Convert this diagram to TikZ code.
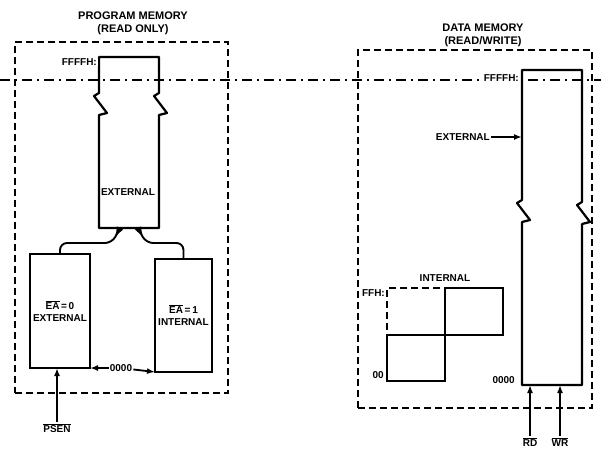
\documentclass[tikz,border=0pt]{standalone}
\usepackage{fontspec}
\setmainfont{Liberation Sans}
\usetikzlibrary{positioning,arrows.meta,calc}
\newcommand{\ovl}[1]{$\overline{\mbox{#1}}$}
\tikzset{
  txt/.style={font=\bfseries\fontsize{10}{11.5}\selectfont, inner sep=1pt, align=center},
  title/.style={font=\bfseries\fontsize{11}{13}\selectfont, inner sep=0pt, align=center},
  region/.style={draw, line width=1.9pt, dash pattern=on 7pt off 4pt, inner sep=0pt},
  memblk/.style={draw, line width=2.2pt, inner sep=0pt, outer sep=0pt, align=center, font=\bfseries\fontsize{10}{12}\selectfont},
  hidden/.style={inner sep=0pt, outer sep=0pt, minimum width=60pt},
  wall/.style={line width=2.2pt, line join=round},
  arr/.style={-{Latex[length=8pt,width=6pt]}, line width=1.8pt},
  branch/.style={line width=1.9pt, rounded corners=7pt},
  sep/.style={line width=1.2pt, dash pattern=on 10pt off 5pt on 2pt off 5pt}
}

\begin{document}
\begin{tikzpicture}[x=1pt,y=-1pt]
\useasboundingbox (0,0) rectangle (601,450);

% address line across both spaces
\coordinate (sepl) at (0,80);
\coordinate (sepr) at (601,80);
\draw[sep] (sepl) -- (sepr);

% program memory
\node[title] (pgmtitle) at (133,23) {PROGRAM MEMORY\\(READ ONLY)};
\node[region, minimum width=213pt, minimum height=351pt] (pgm) at (121.5,217.5) {};
\node[hidden, minimum height=171pt] (ext) at (129,142.5) {};
\draw[wall] (ext.north west) -- (ext.north east) -- ++(0,36) -- ++(-5,3) -- ++(13,17) -- ++(-8,2)
  -- (ext.south east) -- (ext.south west) -- ($(ext.north west)+(0,58)$) -- ++(8,-2) -- ++(-13,-17) -- ++(5,-3) -- cycle;
\node[txt] (extlbl) at (128,192) {EXTERNAL};
\node[txt, fill=white, anchor=east] (pffff) at (98,62) {FFFFH:};

\node[memblk, minimum width=60pt, minimum height=114pt] (ea0) at (60,311) {\ovl{EA}\,=\,0\\EXTERNAL};
\node[memblk, minimum width=57pt, minimum height=113pt] (ea1) at (183.5,315.5) {\ovl{EA}\,=\,1\\INTERNAL};

\draw[branch, -{Latex[reversed,length=12pt,width=7pt]}] (ea0.north) |- ($(ext.south)+(-17,15)$) -- ($(ext.south)+(-9,0)$);
\draw[branch, -{Latex[reversed,length=12pt,width=7pt]}] (ea1.north) |- ($(ext.south)+(17,15)$) -- ($(ext.south)+(9,0)$);

\node[txt] (zpgm) at (121,368) {0000};
\draw[arr] (zpgm) -- (ea0.south east);
\draw[arr] (zpgm) -- (ea1.south west);

\node[txt] (psen) at (57,428) {\ovl{PSEN}};
\draw[arr] (psen) -- (psen |- ea0.south);

% data memory
\node[title] (dattitle) at (483,35) {DATA MEMORY\\(READ/WRITE)};
\node[region, minimum width=234pt, minimum height=358pt] (datmem) at (475,229) {};
\node[hidden, minimum height=315pt] (dat) at (552,227.5) {};
\draw[wall] (dat.north west) -- (dat.north east) -- ++(0,132) -- ++(-5,3) -- ++(13,17) -- ++(-8,2)
  -- (dat.south east) -- (dat.south west) -- ($(dat.north west)+(0,152)$) -- ++(8,-2) -- ++(-13,-17) -- ++(5,-3) -- cycle;
\node[txt, fill=white, anchor=east] (dffff) at (520,78) {FFFFH:};
\node[txt, anchor=east] (dext) at (491,137) {EXTERNAL};
\draw[arr] (dext) -- (dext -| dat.west);

\node[txt] (inttitle) at (445,278) {INTERNAL};
\node[region, outer sep=0pt, minimum width=58pt, minimum height=47pt] (iul) at (416,311.5) {};
\node[memblk, minimum width=58pt, minimum height=47pt, right=0pt of iul] (iur) {};
\node[memblk, minimum width=58pt, minimum height=46pt, below=0pt of iul] (ill) {};
\node[txt, anchor=east] (ffh) at ($(iul.north west)+(-1,5)$) {FFH:};
\node[txt, anchor=east] (zint) at ($(ill.south west)+(-2,-6)$) {00};
\node[txt, anchor=east] (zdat) at ($(dat.south west)+(-6,-5)$) {0000};

\node[txt] (rd) at (530,442) {\ovl{RD}};
\node[txt] (wr) at (560,442) {\ovl{WR}};
\draw[arr] (rd) -- (rd |- dat.south);
\draw[arr] (wr) -- (wr |- dat.south);
\end{tikzpicture}
\end{document}
